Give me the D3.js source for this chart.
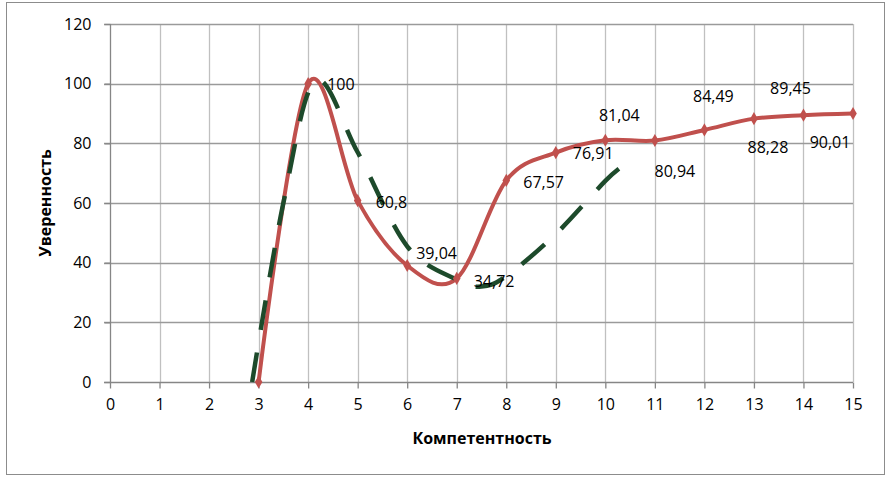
<!DOCTYPE html>
<html><head><meta charset="utf-8">
<script src="https://cdn.jsdelivr.net/npm/d3@7/dist/d3.min.js"></script>
<style>
html,body{margin:0;padding:0;background:#fff;}
svg{display:block;font-family:"Open Sans","Noto Sans",sans-serif;}
</style></head>
<body>
<svg id="chart" width="891" height="485"></svg>
<script>
// ---- data ----
const competence = [3, 4, 5, 6, 7, 8, 9, 10, 11, 12, 13, 14, 15];
const confidence = [0, 100, 60.8, 39.04, 34.72, 67.57, 76.91, 81.04, 80.94, 84.49, 88.28, 89.45, 90.01];
const labelText = ["", "100", "60,8", "39,04", "34,72", "67,57", "76,91", "81,04", "80,94", "84,49", "88,28", "89,45", "90,01"];
const trendX = [2.87, 3.5, 4.15, 5, 6, 7, 7.5, 8, 9, 10, 10.38];
const trendY = [0, 60, 101, 77, 45.5, 34.3, 32, 35.5, 49.6, 67.4, 72.7];
const xTicks = [0,1,2,3,4,5,6,7,8,9,10,11,12,13,14,15];
const yTicks = [0,20,40,60,80,100,120];
const xTitle = "Компетентность";
const yTitle = "Уверенность";
// label placement offsets in px — style, not data
const labelDX = [0, 19, 18, 9, 17, 17, 17, 14, 20, 9, 14, -13, -23];
const labelDY = [0, 1, 2, -12, 3, 2, 1, -25, 31, -34, 29, -27, 29];
const labelAnchor = ["start","start","start","start","start","start","start","middle","middle","middle","middle","middle","middle"];

const svg = d3.select("#chart");
const x = d3.scaleLinear().domain([0, 15]).range([110, 853]);
const y = d3.scaleLinear().domain([0, 120]).range([382, 24]);

// outer border
svg.append("rect").attr("x", 6.5).attr("y", 2.5).attr("width", 878).attr("height", 472)
  .attr("fill", "#fff").attr("stroke", "#8c8c8c").attr("stroke-width", 1);

// vertical gridlines
svg.append("g").selectAll("line").data(xTicks.filter(d => d > 0)).join("line")
  .attr("x1", d => Math.round(x(d)) + 0.5).attr("x2", d => Math.round(x(d)) + 0.5)
  .attr("y1", y(120)).attr("y2", y(0))
  .attr("stroke", "#c0c0c0").attr("stroke-width", 1.3);
// horizontal gridlines
svg.append("g").selectAll("line").data(yTicks.filter(d => d > 0)).join("line")
  .attr("x1", x(0) - 6).attr("x2", x(15))
  .attr("y1", d => Math.round(y(d)) + 0.5).attr("y2", d => Math.round(y(d)) + 0.5)
  .attr("stroke", "#9a9a9a").attr("stroke-width", 1.3);

// axes
const xAxis = d3.axisBottom(x).tickValues(xTicks).tickSize(6).tickPadding(10).tickFormat(d3.format("d"));
const gx = svg.append("g").attr("transform", `translate(0,${Math.round(y(0)) + 0.5})`).call(xAxis);
gx.select(".domain").attr("stroke", "#868686").attr("stroke-width", 1.3).attr("d", `M${x(0)-6},0H${x(15)}`);
gx.selectAll(".tick line").attr("stroke", "#868686").attr("stroke-width", 1.3);
gx.selectAll(".tick text").attr("fill", "#000").attr("font-size", 16).attr("font-family", "'Open Sans',sans-serif");

const yAxis = d3.axisLeft(y).tickValues(yTicks).tickSize(6).tickPadding(13);
const gy = svg.append("g").attr("transform", `translate(${Math.round(x(0)) + 0.5},0)`).call(yAxis);
gy.select(".domain").attr("stroke", "#868686").attr("stroke-width", 1.3).attr("d", `M0,${y(120)}V${y(0)}`);
gy.selectAll(".tick line").attr("stroke", "#868686").attr("stroke-width", 1.3);
gy.selectAll(".tick text").attr("fill", "#000").attr("font-size", 16).attr("font-family", "'Open Sans',sans-serif");

// titles
svg.append("text").attr("x", 482).attr("y", 444).attr("text-anchor", "middle")
  .attr("font-size", 16).attr("font-weight", "bold").text(xTitle);
svg.append("text").attr("transform", `translate(51,${(y(0)+y(120))/2}) rotate(-90)`)
  .attr("text-anchor", "middle").attr("font-size", 16).attr("font-weight", "bold").text(yTitle);

// red smoothed series
const pts = competence.map((c, i) => [c, confidence[i]]);
const line = d3.line().x(d => x(d[0])).y(d => y(d[1])).curve(d3.curveCatmullRom.alpha(0));
svg.append("path").attr("d", line(pts)).attr("fill", "none")
  .attr("stroke", "#c0504d").attr("stroke-width", 4).attr("stroke-linejoin", "round").attr("stroke-linecap", "round");

// green dashed curve
const tpts = trendX.map((c, i) => [c, trendY[i]]);
svg.append("path").attr("d", line(tpts)).attr("fill", "none")
  .attr("stroke", "#1d4a2b").attr("stroke-width", 4.5).attr("stroke-dasharray", "30,23");

// markers
svg.append("g").selectAll("path").data(pts).join("path")
  .attr("d", d3.symbol(d3.symbolDiamond, 50))
  .attr("transform", d => `translate(${x(d[0])},${y(d[1])})`)
  .attr("fill", "#c0504d");

// data labels
svg.append("g").selectAll("text").data(pts).join("text")
  .attr("x", (d, i) => x(d[0]) + labelDX[i])
  .attr("y", (d, i) => y(d[1]) + labelDY[i])
  .attr("dy", "0.35em")
  .attr("text-anchor", (d, i) => labelAnchor[i])
  .attr("font-size", 16).attr("fill", "#000")
  .text((d, i) => labelText[i]);
</script>
</body></html>
